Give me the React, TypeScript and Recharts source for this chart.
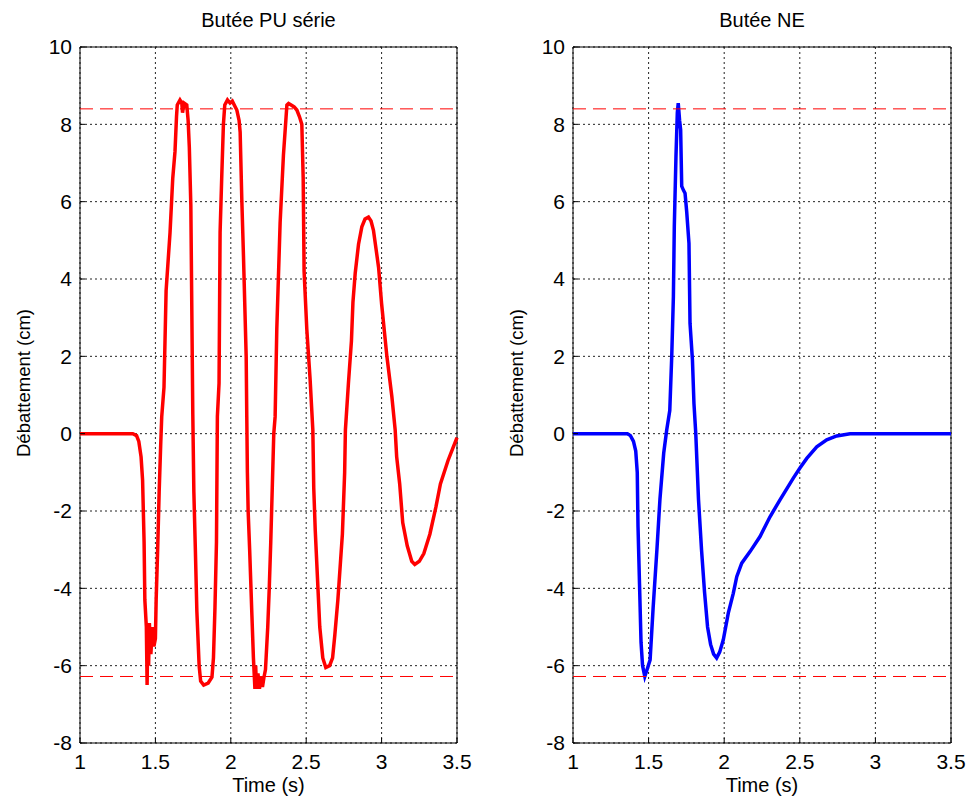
import React from 'react';
import { LineChart, Line, XAxis, YAxis, CartesianGrid, ReferenceLine, ReferenceArea } from 'recharts';

// Butée PU série (red)
const puTime = [
  1.0, 1.35, 1.375, 1.39, 1.405, 1.415, 1.42, 1.425, 1.43, 1.44, 1.445, 1.45, 1.455, 1.46, 1.47, 1.48, 1.49, 1.5,
  1.505, 1.515, 1.525, 1.535, 1.542, 1.557, 1.571, 1.597, 1.615, 1.63, 1.64, 1.645, 1.663, 1.675, 1.68, 1.69, 1.708,
  1.717, 1.725, 1.735, 1.741, 1.748, 1.755, 1.765, 1.775, 1.79, 1.8, 1.82, 1.85, 1.875, 1.885, 1.895, 1.905, 1.911,
  1.922, 1.929, 1.94, 1.951, 1.96, 1.978, 1.995, 2.01, 2.04, 2.055, 2.062, 2.073, 2.084, 2.102, 2.106, 2.11, 2.115,
  2.125, 2.14, 2.15, 2.16, 2.165, 2.17, 2.18, 2.19, 2.2, 2.21, 2.22, 2.23, 2.245, 2.255, 2.265, 2.275, 2.285, 2.294,
  2.305, 2.327, 2.349, 2.365, 2.372, 2.383, 2.4, 2.42, 2.438, 2.455, 2.471, 2.48, 2.486, 2.504, 2.526, 2.544, 2.55,
  2.56, 2.59, 2.61, 2.63, 2.655, 2.675, 2.69, 2.71, 2.74, 2.755, 2.76, 2.78, 2.8, 2.81, 2.825, 2.847, 2.869, 2.89,
  2.913, 2.93, 2.946, 2.98, 3.0, 3.035, 3.068, 3.09, 3.1, 3.12, 3.14, 3.17, 3.2, 3.22, 3.25, 3.28, 3.32, 3.36, 3.39,
  3.44, 3.47, 3.5,
];
const puDisp = [
  0, 0, -0.05, -0.2, -0.6, -1.2, -2.0, -2.8, -4.3, -5.0, -6.5, -5.0, -6.0, -4.9, -5.7, -5.0, -5.5, -5.3,
  -4.3, -3.0, -1.5, -0.3, 0.44, 1.2, 3.7, 5.2, 6.6, 7.3, 8.2, 8.5, 8.63, 8.55, 8.3, 8.55, 8.5,
  8.1, 7.4, 5.9, 3.4, 0.5, -1.5, -3.0, -4.6, -6.0, -6.4, -6.5, -6.45, -6.3, -5.8, -4.5, -2.8, 0.44,
  1.3, 5.2, 6.65, 8.0, 8.5, 8.63, 8.55, 8.6, 8.37, 8.1, 7.8, 6.05, 4.6, 2.0, 0.44, -1.0, -2.0,
  -3.0, -4.7, -5.8, -6.6, -6.0, -6.6, -6.2, -6.6, -6.3, -6.55, -6.3, -6.1, -5.0, -4.0, -2.8, -1.4, 0.0, 0.44,
  2.7, 5.45, 7.2, 8.1, 8.5, 8.54, 8.5, 8.45, 8.37, 8.2, 8.0, 6.6, 4.2, 2.7, 1.4, 0.1, -1.4,
  -2.5, -5.0, -5.8, -6.05, -6.0, -5.8, -5.2, -4.3, -2.6, -1.0, 0.1, 1.3, 2.4, 3.4, 4.15, 4.9, 5.35, 5.55,
  5.6, 5.5, 5.26, 4.3, 3.36, 2.0, 0.96, 0.1, -0.6, -1.3, -2.3, -2.9, -3.3, -3.38, -3.3, -3.1, -2.6, -1.9, -1.3,
  -0.7, -0.4, -0.1,
];

// Butée NE (blue)
const neTime = [
  1.0, 1.36, 1.38, 1.4, 1.415, 1.425, 1.43, 1.44, 1.45, 1.46, 1.475, 1.49, 1.51, 1.53, 1.555, 1.575, 1.6, 1.62,
  1.64, 1.653, 1.664, 1.67, 1.681, 1.69, 1.696, 1.705, 1.712, 1.719, 1.73, 1.741, 1.752, 1.767, 1.774, 1.79, 1.8,
  1.812, 1.83, 1.85, 1.87, 1.89, 1.91, 1.93, 1.95, 1.97, 1.994, 2.027, 2.06, 2.083, 2.116, 2.171, 2.237, 2.303,
  2.369, 2.457, 2.501, 2.546, 2.612, 2.678, 2.744, 2.832, 3.5,
];
const neDisp = [
  0, 0, -0.05, -0.2, -0.45, -1.0, -2.4, -3.9, -5.4, -6.0, -6.28, -6.1, -5.85, -4.5, -3.0, -1.7, -0.5, 0.1,
  0.6, 2.0, 3.55, 5.36, 7.17, 8.3, 8.55, 8.1, 7.86, 6.4, 6.3, 6.22, 5.74, 4.92, 2.85, 1.9, 0.78,
  0.0, -1.7, -3.0, -4.1, -5.0, -5.45, -5.7, -5.8, -5.65, -5.33, -4.64, -4.13, -3.7, -3.35, -3.05, -2.66, -2.15,
  -1.71, -1.15, -0.89, -0.64, -0.34, -0.16, -0.06, 0, 0,
];

const xTicks = [1, 1.5, 2, 2.5, 3, 3.5];
const yTicks = [-8, -6, -4, -2, 0, 2, 4, 6, 8, 10];
const upperStop = 8.4;
const lowerStop = -6.28;

const zip = (t: number[], v: number[]) => t.map((x, i) => ({ t: x, v: v[i] }));

const FONT = 'Arial, "Liberation Sans", sans-serif';

interface PanelProps {
  title: string;
  data: { t: number; v: number }[];
  color: string;
  left: number;
  marginLeft: number;
  marginRight: number;
}

const Panel: React.FC<PanelProps> = ({ title, data, color, left, marginLeft, marginRight }) => {
  const plotLeft = marginLeft + 80;
  const plotRight = 484 - marginRight;
  return (
    <div style={{ position: 'absolute', left, top: 0, width: 484, height: 803 }}>
      <div
        style={{
          position: 'absolute',
          left: plotLeft,
          width: plotRight - plotLeft,
          top: 10,
          textAlign: 'center',
          fontSize: 20,
          lineHeight: '20px',
        }}
      >
        {title}
      </div>
      <LineChart width={484} height={803} data={data} margin={{ top: 47, right: marginRight, left: marginLeft, bottom: 0 }}>
        <CartesianGrid stroke="#222" strokeDasharray="2 3" />
        <XAxis
          dataKey="t"
          type="number"
          domain={[1, 3.5]}
          ticks={xTicks}
          height={60}
          axisLine={false}
          stroke="#000"
          tickSize={-5}
          tickMargin={16}
          tick={{ fill: '#000', fontSize: 21 }}
          label={{ value: 'Time (s)', position: 'insideBottom', offset: 11, fill: '#000', fontSize: 20 }}
        />
        <XAxis
          xAxisId="top"
          orientation="top"
          type="number"
          domain={[1, 3.5]}
          allowDataOverflow
          ticks={xTicks}
          mirror
          tick={false}
          axisLine={false}
          stroke="#000"
          tickSize={5}
        />
        <YAxis
          type="number"
          domain={[-8, 10]}
          ticks={yTicks}
          width={80}
          axisLine={false}
          stroke="#000"
          tickSize={-5}
          tickMargin={13}
          tick={{ fill: '#000', fontSize: 21 }}
          label={{ value: 'Débattement (cm)', angle: -90, position: 'center', dx: -17, dy: -12, fill: '#000', fontSize: 18.5 }}
        />
        <YAxis
          yAxisId="right"
          orientation="right"
          type="number"
          domain={[-8, 10]}
          allowDataOverflow
          ticks={yTicks}
          mirror
          tick={false}
          axisLine={false}
          stroke="#000"
          tickSize={5}
        />
        <ReferenceArea x1={1} x2={3.5} y1={-8} y2={10} fill="none" stroke="#000" strokeWidth={1} fillOpacity={0} />
        <Line dataKey="v" stroke={color} strokeWidth={3.5} dot={false} type="linear" isAnimationActive={false} />
        <ReferenceLine y={upperStop} stroke="#ff0000" strokeDasharray="13 7" />
        <ReferenceLine y={lowerStop} stroke="#ff0000" strokeDasharray="13 7" />
      </LineChart>
    </div>
  );
};

export default function App() {
  return (
    <div style={{ position: 'absolute', left: 0, top: 0, width: 968, height: 803, background: '#fff', fontFamily: FONT }}>
      <Panel title="Butée PU série" data={zip(puTime, puDisp)} color="#ff0000" left={0} marginLeft={0} marginRight={27} />
      <Panel title="Butée NE" data={zip(neTime, neDisp)} color="#0000ff" left={484} marginLeft={9} marginRight={17} />
    </div>
  );
}
